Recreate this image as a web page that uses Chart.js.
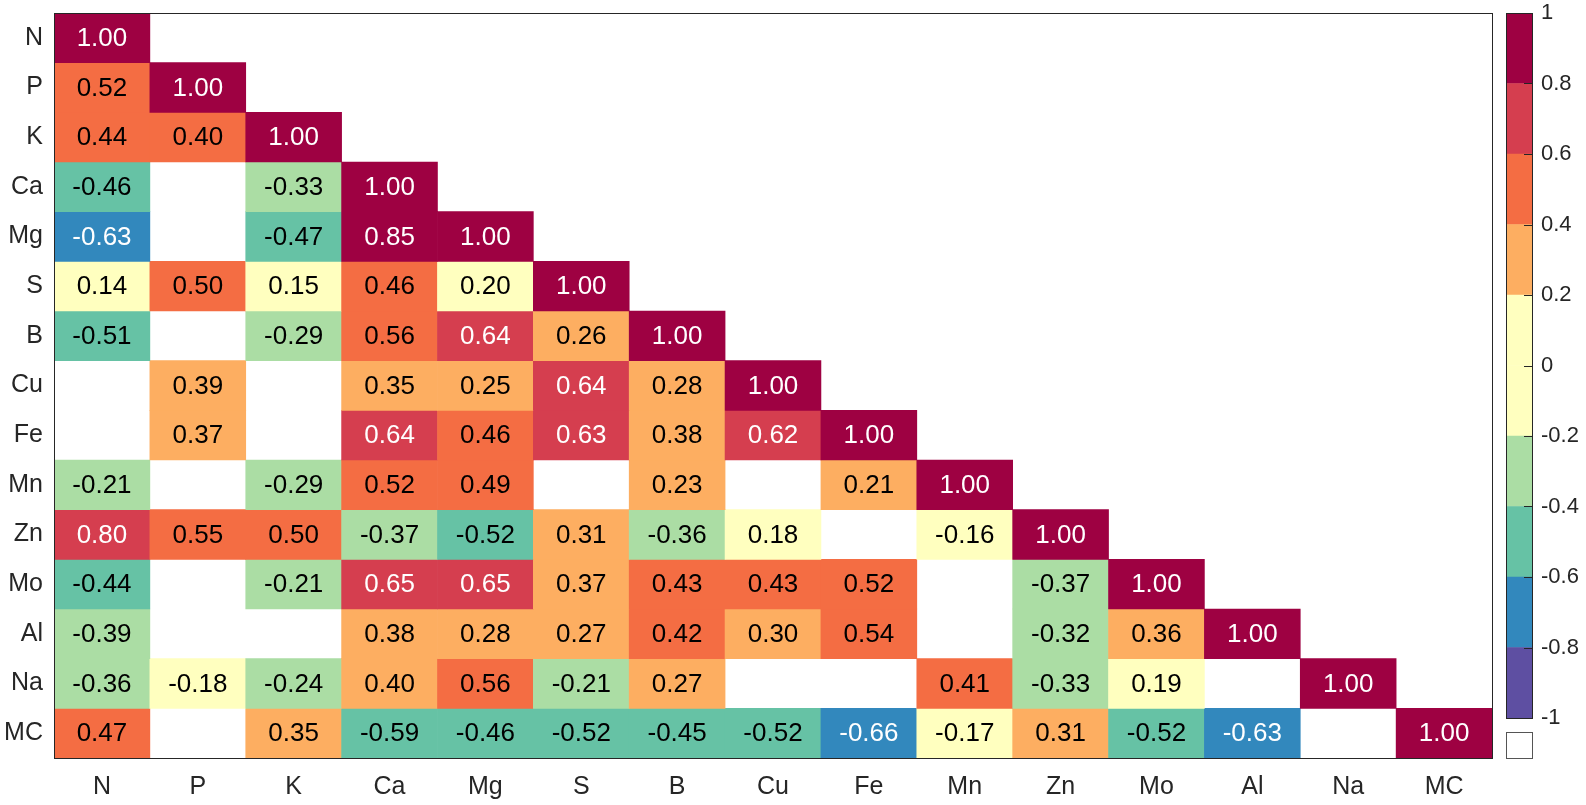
<!DOCTYPE html>
<html>
<head>
<meta charset="utf-8">
<script src="https://cdn.jsdelivr.net/npm/chart.js@4.4.1/dist/chart.umd.min.js"></script>
<style>
    body { margin: 0; background: #ffffff; overflow: hidden; }
    #wrap { position: relative; width: 1586px; height: 805px; }
    #heatmap { position: absolute; left: 0; top: 0; }
    #colorbar { position: absolute; left: 1490px; top: 0; }
</style>
</head>
<body>
<div id="wrap">
    <canvas id="heatmap" width="1586" height="805"></canvas>
    <canvas id="colorbar" width="96" height="805"></canvas>
</div>
<script>
const elements = ['N', 'P', 'K', 'Ca', 'Mg', 'S', 'B', 'Cu', 'Fe', 'Mn', 'Zn', 'Mo', 'Al', 'Na', 'MC'];

// lower triangle, null = not significant (left blank)
const rowN  = [1.00];
const rowP  = [0.52, 1.00];
const rowK  = [0.44, 0.402, 1.00];
const rowCa = [-0.46, null, -0.33, 1.00];
const rowMg = [-0.63, null, -0.47, 0.85, 1.00];
const rowS  = [0.14, 0.50, 0.15, 0.46, 0.198, 1.00];
const rowB  = [-0.51, null, -0.29, 0.56, 0.64, 0.26, 1.00];
const rowCu = [null, 0.39, null, 0.35, 0.25, 0.64, 0.28, 1.00];
const rowFe = [null, 0.37, null, 0.64, 0.46, 0.63, 0.38, 0.62, 1.00];
const rowMn = [-0.21, null, -0.29, 0.52, 0.49, null, 0.23, null, 0.21, 1.00];
const rowZn = [0.798, 0.55, 0.50, -0.37, -0.52, 0.31, -0.36, 0.18, null, -0.16, 1.00];
const rowMo = [-0.44, null, -0.21, 0.65, 0.65, 0.37, 0.43, 0.43, 0.52, null, -0.37, 1.00];
const rowAl = [-0.39, null, null, 0.38, 0.28, 0.27, 0.42, 0.30, 0.54, null, -0.32, 0.36, 1.00];
const rowNa = [-0.36, -0.18, -0.24, 0.398, 0.56, -0.21, 0.27, null, null, 0.41, -0.33, 0.19, null, 1.00];
const rowMC = [0.47, null, 0.35, -0.59, -0.46, -0.52, -0.45, -0.52, -0.66, -0.17, 0.31, -0.52, -0.63, null, 1.00];

const corrRows = [rowN, rowP, rowK, rowCa, rowMg, rowS, rowB, rowCu, rowFe, rowMn, rowZn, rowMo, rowAl, rowNa, rowMC];

// colour bins from -1 to 1
const binEdges = [-1, -0.8, -0.6, -0.4, -0.2, 0, 0.2, 0.4, 0.6, 0.8, 1];
const binColors = ['#5E4FA2', '#3288BD', '#66C2A5', '#ABDDA4', '#FFFFBF', '#FFFFBF', '#FDAE61', '#F46D43', '#D53E4F', '#9E0142'];
const cbTicks = [-1, -0.8, -0.6, -0.4, -0.2, 0, 0.2, 0.4, 0.6, 0.8, 1];

const FONT = "'Liberation Sans', Arial, Helvetica, sans-serif";
const AXIS_COLOR = '#262626';

function binIndex(v) {
    for (let i = binEdges.length - 2; i >= 0; i--) {
        if (v >= binEdges[i]) return i;
    }
    return 0;
}

function cellColor(v) {
    return binColors[binIndex(v)];
}

function textColor(v) {
    const b = binIndex(v);
    return (b <= 1 || b >= 8) ? '#ffffff' : '#000000';
}

// one floating-bar dataset per row, spanning [row-0.5, row+0.5]
const heatDatasets = corrRows.map((row, i) => ({
    label: elements[i],
    data: elements.map((_, j) => (row[j] === undefined || row[j] === null) ? null : [i - 0.5, i + 0.5]),
    values: elements.map((_, j) => (row[j] === undefined ? null : row[j])),
    backgroundColor: elements.map((_, j) => (row[j] === undefined || row[j] === null) ? 'rgba(0,0,0,0)' : cellColor(row[j])),
    borderWidth: 0,
    barPercentage: 1.0,
    categoryPercentage: 1.0,
    grouped: false
}));

const cellLabels = {
    id: 'cellLabels',
    afterDatasetsDraw(chart) {
        const ctx = chart.ctx;
        ctx.save();
        ctx.font = '26px ' + FONT;
        ctx.textAlign = 'center';
        ctx.textBaseline = 'middle';
        chart.data.datasets.forEach((ds, i) => {
            const meta = chart.getDatasetMeta(i);
            meta.data.forEach((bar, j) => {
                const v = ds.values[j];
                if (v === null) return;
                ctx.fillStyle = textColor(v);
                ctx.fillText(v.toFixed(2), bar.x, (bar.y + bar.base) / 2 + 1);
            });
        });
        ctx.restore();
    }
};

const frameBox = {
    id: 'frameBox',
    afterDraw(chart) {
        const a = chart.chartArea;
        const ctx = chart.ctx;
        ctx.save();
        ctx.strokeStyle = AXIS_COLOR;
        ctx.lineWidth = 1;
        ctx.strokeRect(Math.round(a.left) + 0.5, Math.round(a.top) + 0.5, Math.round(a.right - a.left), Math.round(a.bottom - a.top));
        ctx.restore();
    }
};

new Chart(document.getElementById('heatmap'), {
    type: 'bar',
    data: { labels: elements, datasets: heatDatasets },
    options: {
        responsive: false,
        animation: false,
        layout: { padding: { top: 13, right: 94, left: 0, bottom: 0 } },
        scales: {
            x: {
                type: 'category',
                grid: { display: false, drawTicks: false },
                border: { display: false },
                ticks: { color: AXIS_COLOR, font: { family: FONT, size: 25 }, padding: 14, maxRotation: 0 },
                afterFit(scale) {
                    scale.height = 47;
                    scale.paddingLeft = 0;
                    scale.paddingRight = 0;
                }
            },
            y: {
                type: 'linear',
                min: -0.5,
                max: 14.5,
                reverse: true,
                grid: { display: false, drawTicks: false },
                border: { display: false },
                afterBuildTicks(scale) {
                    scale.ticks = elements.map((_, i) => ({ value: i }));
                },
                ticks: {
                    color: AXIS_COLOR,
                    font: { family: FONT, size: 25 },
                    padding: 11,
                    autoSkip: false,
                    callback: (value) => elements[Math.round(value)]
                },
                afterFit(scale) {
                    scale.width = 54;
                    scale.paddingTop = 0;
                    scale.paddingBottom = 0;
                }
            }
        },
        plugins: {
            legend: { display: false },
            tooltip: { enabled: false }
        }
    },
    plugins: [cellLabels, frameBox]
});

// colour bar
const cbDatasets = binColors.map((c, i) => ({
    data: [[binEdges[i], binEdges[i + 1]]],
    backgroundColor: c,
    borderWidth: 0,
    barPercentage: 1.0,
    categoryPercentage: 1.0,
    grouped: false
}));

const cbDecor = {
    id: 'cbDecor',
    afterDraw(chart) {
        const a = chart.chartArea;
        const ctx = chart.ctx;
        const y = chart.scales.y;
        ctx.save();
        ctx.strokeStyle = AXIS_COLOR;
        ctx.lineWidth = 1;
        // small ticks inside the bar
        cbTicks.forEach(t => {
            const py = Math.round(y.getPixelForValue(t)) + 0.5;
            ctx.beginPath();
            ctx.moveTo(a.right - 8, py);
            ctx.lineTo(a.right, py);
            ctx.stroke();
        });
        ctx.strokeRect(Math.round(a.left) + 0.5, Math.round(a.top) + 0.5, Math.round(a.right - a.left), Math.round(a.bottom - a.top));
        // box for blank (NaN) cells
        ctx.fillStyle = '#ffffff';
        ctx.fillRect(Math.round(a.left) + 0.5, Math.round(a.bottom) + 14.5, Math.round(a.right - a.left), 26);
        ctx.strokeStyle = '#555555';
        ctx.strokeRect(Math.round(a.left) + 0.5, Math.round(a.bottom) + 14.5, Math.round(a.right - a.left), 26);
        ctx.restore();
    }
};

new Chart(document.getElementById('colorbar'), {
    type: 'bar',
    data: { labels: ['cb'], datasets: cbDatasets },
    options: {
        responsive: false,
        animation: false,
        layout: { padding: { top: 13, right: 0, left: 16, bottom: 87 } },
        scales: {
            x: { display: false },
            y: {
                type: 'linear',
                position: 'right',
                min: -1,
                max: 1,
                grid: { display: false, drawTicks: false },
                border: { display: false },
                afterBuildTicks(scale) {
                    scale.ticks = cbTicks.map(v => ({ value: v }));
                },
                ticks: {
                    color: AXIS_COLOR,
                    font: { family: FONT, size: 22 },
                    padding: 9,
                    autoSkip: false,
                    callback: (value) => String(+value.toFixed(1))
                },
                afterFit(scale) {
                    scale.width = 54;
                    scale.paddingTop = 0;
                    scale.paddingBottom = 0;
                }
            }
        },
        plugins: {
            legend: { display: false },
            tooltip: { enabled: false }
        }
    },
    plugins: [cbDecor]
});
</script>
</body>
</html>
